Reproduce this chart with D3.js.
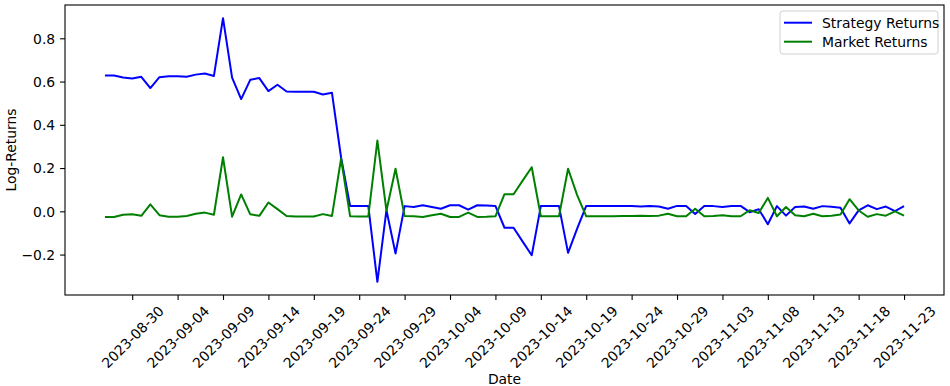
<!DOCTYPE html>
<html>
<head>
<meta charset="utf-8">
<script src="https://cdn.jsdelivr.net/npm/d3@7"></script>
<style>
  body { margin: 0; background: #fff; }
  text { font-family: "DejaVu Sans", sans-serif; fill: #000; }
</style>
</head>
<body>
<div id="chart"></div>
<script>
// Data: one point per day
var startDate = "2023-08-27",
    endDate = "2023-11-23";

var strategyReturns = [
  0.628, 0.628, 0.619, 0.614, 0.622, 0.570, 0.620, 0.625, 0.625, 0.622,
  0.632, 0.637, 0.626, 0.893, 0.618, 0.519, 0.608, 0.616, 0.556, 0.585,
  0.554, 0.553, 0.553, 0.553, 0.540, 0.548, 0.250, 0.024, 0.025, 0.025,
  -0.326, 0.005, -0.195, 0.024, 0.020, 0.028, 0.020, 0.012, 0.028, 0.028,
  0.008, 0.028, 0.027, 0.025, -0.076, -0.076, -0.140, -0.203, 0.024, 0.024,
  0.024, -0.192, -0.080, 0.025, 0.025, 0.025, 0.025, 0.025, 0.024, 0.022,
  0.024, 0.022, 0.012, 0.025, 0.025, -0.012, 0.025, 0.024, 0.020, 0.025,
  0.025, -0.004, 0.010, -0.060, 0.024, -0.020, 0.020, 0.022, 0.012, 0.024,
  0.021, 0.017, -0.056, 0.004, 0.028, 0.010, 0.022, 0.001, 0.024
];

var marketReturns = [
  -0.026, -0.026, -0.016, -0.014, -0.021, 0.032, -0.018, -0.025, -0.025, -0.022,
  -0.011, -0.006, -0.016, 0.250, -0.025, 0.078, -0.014, -0.021, 0.041, 0.010,
  -0.022, -0.024, -0.024, -0.024, -0.013, -0.022, 0.243, -0.023, -0.024, -0.024,
  0.327, 0.003, 0.197, -0.022, -0.023, -0.026, -0.018, -0.011, -0.026, -0.026,
  -0.006, -0.026, -0.025, -0.023, 0.079, 0.079, 0.142, 0.204, -0.023, -0.023,
  -0.023, 0.197, 0.075, -0.023, -0.023, -0.023, -0.023, -0.022, -0.022, -0.020,
  -0.022, -0.020, -0.011, -0.023, -0.023, 0.012, -0.023, -0.022, -0.018, -0.023,
  -0.023, 0.005, -0.008, 0.062, -0.023, 0.020, -0.018, -0.023, -0.011, -0.023,
  -0.020, -0.015, 0.056, 0.004, -0.025, -0.013, -0.020, 0.000, -0.020
];

var xTickLabels = ["2023-08-30", "2023-09-04", "2023-09-09", "2023-09-14", "2023-09-19",
  "2023-09-24", "2023-09-29", "2023-10-04", "2023-10-09", "2023-10-14", "2023-10-19",
  "2023-10-24", "2023-10-29", "2023-11-03", "2023-11-08", "2023-11-13", "2023-11-18",
  "2023-11-23"];
var yTickValues = [-0.2, 0.0, 0.2, 0.4, 0.6, 0.8];
var seriesNames = ["Strategy Returns", "Market Returns"];
var seriesColors = ["#0000ff", "#008000"];

var width = 950,
    height = 386;
var margin = {left: 65, right: 6, top: 5, bottom: 91};

var svg = d3.select("#chart").append("svg")
    .attr("width", width)
    .attr("height", height);

var parse = d3.utcParse("%Y-%m-%d");
var dates = d3.utcDay.range(parse(startDate), d3.utcDay.offset(parse(endDate), 1));

// matplotlib style 5% margins on both axes
var t0 = dates[0].getTime(), t1 = dates[dates.length - 1].getTime();
var tPad = (t1 - t0) * 0.05;
var x = d3.scaleUtc()
    .domain([new Date(t0 - tPad), new Date(t1 + tPad)])
    .range([margin.left, width - margin.right]);

var allVals = strategyReturns.concat(marketReturns);
var yMin = d3.min(allVals), yMax = d3.max(allVals);
var yPad = (yMax - yMin) * 0.05;
var y = d3.scaleLinear()
    .domain([yMin - yPad, yMax + yPad])
    .range([height - margin.bottom, margin.top]);

// Lines
var line = d3.line()
    .x(function(d, i) { return x(dates[i]); })
    .y(function(d) { return y(d); });

[strategyReturns, marketReturns].forEach(function(series, k) {
  svg.append("path")
    .datum(series)
    .attr("fill", "none")
    .attr("stroke", seriesColors[k])
    .attr("stroke-width", 2)
    .attr("stroke-linejoin", "round")
    .attr("d", line);
});

// X axis
var xAxis = svg.append("g")
    .attr("transform", "translate(0," + (height - margin.bottom) + ")")
    .call(d3.axisBottom(x)
      .tickValues(xTickLabels.map(parse))
      .tickSize(4.9)
      .tickSizeOuter(0)
      .tickFormat(d3.utcFormat("%Y-%m-%d")));
xAxis.select(".domain").remove();
xAxis.selectAll(".tick line").attr("stroke", "#000").attr("stroke-width", 1.1);
xAxis.selectAll(".tick text")
    .attr("font-size", 13.9)
    .attr("font-family", "DejaVu Sans, sans-serif")
    .attr("text-anchor", "middle")
    .attr("dominant-baseline", "central")
    .attr("y", 0)
    .attr("dy", null)
    .attr("transform", "translate(0,42) rotate(-45)");

// Y axis
var yAxis = svg.append("g")
    .attr("transform", "translate(" + margin.left + ",0)")
    .call(d3.axisLeft(y)
      .tickValues(yTickValues)
      .tickSize(4.9)
      .tickSizeOuter(0)
      .tickFormat(d3.format(".1f")));
yAxis.select(".domain").remove();
yAxis.selectAll(".tick line").attr("stroke", "#000").attr("stroke-width", 1.1);
yAxis.selectAll(".tick text")
    .attr("font-size", 13.9)
    .attr("font-family", "DejaVu Sans, sans-serif")
    .attr("x", -9.8)
    .attr("dy", "0.35em");

// Frame
svg.append("rect")
    .attr("x", margin.left)
    .attr("y", margin.top)
    .attr("width", width - margin.left - margin.right)
    .attr("height", height - margin.top - margin.bottom)
    .attr("fill", "none")
    .attr("stroke", "#000")
    .attr("stroke-width", 1.1);

// Axis labels
svg.append("text")
    .attr("x", (margin.left + width - margin.right) / 2)
    .attr("y", 384)
    .attr("text-anchor", "middle")
    .attr("font-size", 13.9)
    .text("Date");

svg.append("text")
    .attr("transform", "translate(16," + ((margin.top + height - margin.bottom) / 2) + ") rotate(-90)")
    .attr("text-anchor", "middle")
    .attr("font-size", 13.9)
    .text("Log-Returns");

// Legend
var legend = svg.append("g")
    .attr("class", "legend")
    .attr("transform", "translate(780,11)");

legend.append("rect")
    .attr("width", 158)
    .attr("height", 43)
    .attr("rx", 3)
    .attr("fill", "#fff")
    .attr("fill-opacity", 0.8)
    .attr("stroke", "#d0d0d0");

seriesNames.forEach(function(name, i) {
  var ly = 11.7 + i * 19;
  legend.append("line")
    .attr("x1", 4).attr("x2", 32)
    .attr("y1", ly).attr("y2", ly)
    .attr("stroke", seriesColors[i])
    .attr("stroke-width", 2);
  legend.append("text")
    .attr("x", 42)
    .attr("y", ly)
    .attr("dy", "0.35em")
    .attr("font-size", 13.9)
    .text(name);
});
</script>
</body>
</html>
